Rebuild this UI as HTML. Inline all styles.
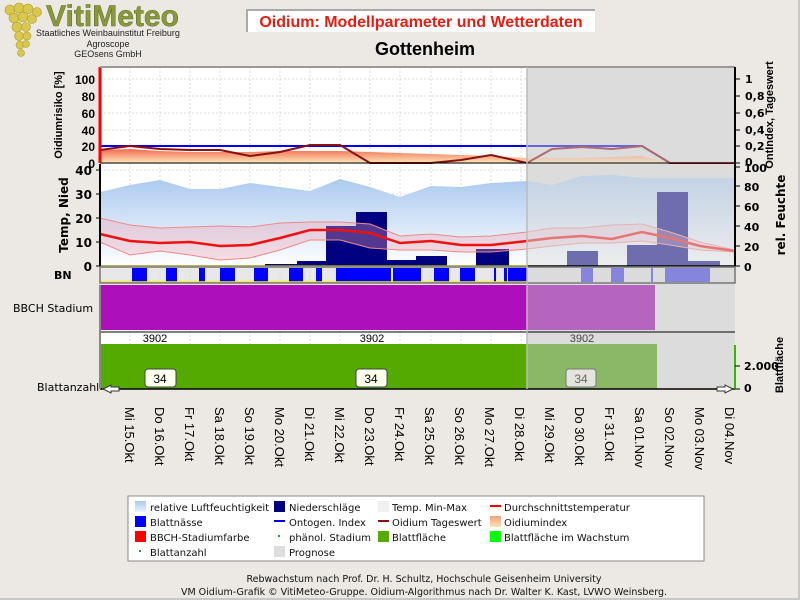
<!DOCTYPE html>
<html><head><meta charset="utf-8"><style>
html,body{margin:0;padding:0;background:#ece9e4;}
svg{display:block;font-family:"Liberation Sans",sans-serif;}
.dv{font-family:"DejaVu Sans",sans-serif;}
</style></head><body>
<svg width="800" height="600" viewBox="0 0 800 600" xmlns="http://www.w3.org/2000/svg">
<defs>
<linearGradient id="hum" x1="0" y1="0" x2="0" y2="1"><stop offset="0" stop-color="#a8c8ee"/><stop offset="1" stop-color="#ffffff"/></linearGradient>
<linearGradient id="oid" x1="0" y1="0" x2="0" y2="1"><stop offset="0" stop-color="#f46a50"/><stop offset="1" stop-color="#fbe6b8"/></linearGradient>
<linearGradient id="leg1" x1="0" y1="0" x2="0" y2="1"><stop offset="0" stop-color="#a8c8ee"/><stop offset="1" stop-color="#eef4fc"/></linearGradient>
<linearGradient id="leg2" x1="0" y1="0" x2="0" y2="1"><stop offset="0" stop-color="#f4a080"/><stop offset="1" stop-color="#fbe0b8"/></linearGradient>
</defs>
<rect x="0" y="0" width="800" height="600" fill="#ece9e4"/>
<rect x="798" y="0" width="2" height="600" fill="#c8c8c8"/>
<rect x="0" y="598" width="800" height="2" fill="#c8c8c8"/>

<!-- logo -->
<g fill="#d8c850" stroke="#b09a20" stroke-width="0.6">
<circle cx="10" cy="10" r="5"/><circle cx="19" cy="8" r="5"/><circle cx="28" cy="9" r="5"/><circle cx="37" cy="12" r="4.5"/>
<circle cx="14" cy="18" r="5"/><circle cx="23" cy="17" r="5"/><circle cx="32" cy="19" r="4.5"/>
<circle cx="17" cy="27" r="5"/><circle cx="26" cy="27" r="4.5"/><circle cx="19" cy="36" r="4.5"/><circle cx="27" cy="36" r="4"/>
<circle cx="20" cy="45" r="4"/><circle cx="26" cy="44" r="3.5"/><circle cx="21" cy="53" r="3.5"/>
</g>
<text x="46" y="26" font-size="30" font-weight="bold" fill="#8a9a3a" stroke="#5a6a20" stroke-width="0.5" textLength="133" lengthAdjust="spacingAndGlyphs">VitiMeteo</text>
<text x="108" y="36" font-size="9" text-anchor="middle" fill="#222">Staatliches Weinbauinstitut Freiburg</text>
<text x="108" y="47" font-size="9" text-anchor="middle" fill="#222">Agroscope</text>
<text x="108" y="57" font-size="9" text-anchor="middle" fill="#222">GEOsens GmbH</text>

<!-- title -->
<rect x="247" y="10" width="348" height="22" fill="#fff"/>
<path d="M247 32 V10 H595" fill="none" stroke="#aaa" stroke-width="2"/>
<text x="421" y="27" font-size="16" font-weight="bold" fill="#ee1a10" text-anchor="middle">Oidium: Modellparameter und Wetterdaten</text>
<text x="425" y="55" font-size="18" font-weight="bold" fill="#000" text-anchor="middle">Gottenheim</text>

<!-- plot backgrounds -->
<rect x="100" y="67" width="635" height="96" fill="#fff"/>
<rect x="100" y="164" width="635" height="102" fill="#fff"/>
<rect x="100" y="268" width="635" height="15" fill="#e8e8e8"/>
<rect x="100" y="285" width="635" height="104" fill="#fff"/>
<rect x="527" y="67" width="208" height="322" fill="#dcdcdc"/>

<!-- grid -->
<g stroke="#ddd" stroke-dasharray="2,2" stroke-width="1">
<path d="M130 67V389M160 67V389M190 67V389M220 67V389M250 67V389M280 67V389M310 67V389M340 67V389M370 67V389M400 67V389M431 67V389M461 67V389M491 67V389M521 67V389M551 67V389M581 67V389M611 67V389M641 67V389M671 67V389M701 67V389M731 67V389"/>
<path d="M100 79H735M100 96H735M100 113H735M100 130H735M100 146H735M100 242H735M100 218H735M100 194H735M100 170H735M100 366H735"/>
</g>

<!-- top panel -->
<path d="M100 150 L130 149 L160 151 L190 152 L220 152 L250 152 L280 151 L310 151 L340 151 L370 152 L400 153 L431 154 L461 155 L491 156 L527 158 L551 158 L581 158 L611 157 L641 156 L671 163 L735 163 L735 163 L100 163Z" fill="url(#oid)"/>
<polyline points="100,146 642,146 670,163 735,163" fill="none" stroke="#0000ee" stroke-width="2"/>
<polyline points="100,150 130,146 160,149 190,150 220,150 250,156 280,152 310,145 340,145 370,163 400,163 431,163 461,160 491,155 527,163 552,149 582,147 612,149 642,146 670,163 735,163" fill="none" stroke="#8b1010" stroke-width="2"/>
<rect x="527" y="67" width="208" height="96" fill="#dcdcdc" fill-opacity="0.45"/>
<path d="M100 163H735" stroke="#000" stroke-width="1"/>
<path d="M100 67V163" stroke="#ff0000" stroke-width="3"/>
<path d="M100 67H735" stroke="#999" stroke-width="2"/>

<!-- temp panel -->
<path d="M100 192 L130 185 L160 180 L190 189 L220 189 L250 183 L280 187 L310 191 L340 179 L370 187 L400 197 L431 186 L461 187 L491 183 L527 181 L552 185 L582 176 L612 175 L642 178 L670 178 L700 178 L735 178 L735 266 L100 266Z" fill="url(#hum)"/>
<g fill="#000080">
<rect x="265" y="264" width="32" height="2"/><rect x="297" y="261" width="29" height="5"/>
<rect x="326" y="226" width="30" height="40"/><rect x="356" y="212" width="31" height="54"/>
<rect x="387" y="260" width="29" height="6"/><rect x="416" y="256" width="31" height="10"/>
<rect x="476" y="249" width="33" height="17"/>
<rect x="567" y="251" width="31" height="15"/><rect x="627" y="245" width="30" height="21"/>
<rect x="657" y="192" width="31" height="74"/><rect x="688" y="261" width="32" height="5"/>
</g>
<path d="M100 218 L130 225 L160 228 L190 227 L220 226 L250 227 L280 223 L310 222 L340 222 L370 224 L400 236 L431 234 L461 237 L491 236 L527 232 L552 228 L582 228 L612 225 L642 224 L670 232 L700 242 L735 250 L735 252 L700 250 L670 245 L642 241 L612 243 L582 243 L552 246 L527 249 L491 252 L461 252 L431 250 L400 250 L370 248 L340 240 L310 240 L280 250 L250 258 L220 260 L190 255 L160 251 L130 255 L100 242Z" fill="#f0a0b0" fill-opacity="0.35" stroke="#f08888" stroke-width="1"/>
<polyline points="100,234 130,241 160,243 190,242 220,246 250,245 280,238 310,230 340,230 370,233 400,243 431,241 461,245 491,245 527,241 552,238 582,236 612,239 642,232 670,238 700,246 735,251" fill="none" stroke="#ee1111" stroke-width="2.5"/>
<rect x="527" y="164" width="208" height="102" fill="#dcdcdc" fill-opacity="0.5"/>
<path d="M100 266H735" stroke="#000" stroke-width="1.5"/>
<path d="M100 266H527" stroke="#e8e040" stroke-width="1"/>
<path d="M100 164V266" stroke="#000" stroke-width="2"/>

<!-- BN strip -->
<g fill="#0000ff">
<rect x="132" y="268" width="15" height="14"/><rect x="166" y="268" width="11" height="14"/><rect x="199" y="268" width="6" height="14"/><rect x="220" y="268" width="15" height="14"/><rect x="254" y="268" width="14" height="14"/><rect x="289" y="268" width="14" height="14"/><rect x="316" y="268" width="6" height="14"/><rect x="336" y="268" width="55" height="14"/><rect x="393" y="268" width="14" height="14"/><rect x="407" y="268" width="14" height="14"/><rect x="434" y="268" width="15" height="14"/><rect x="460" y="268" width="15" height="14"/><rect x="494" y="268" width="2" height="14"/><rect x="504" y="268" width="3" height="14"/><rect x="508" y="268" width="19" height="14"/>
</g>
<g fill="#6060e0">
<rect x="581" y="268" width="12" height="14"/><rect x="611" y="268" width="13" height="14"/><rect x="651" y="268" width="2" height="14"/><rect x="665" y="268" width="45" height="14"/>
</g>
<rect x="527" y="268" width="208" height="14" fill="#dcdcdc" fill-opacity="0.3"/>
<path d="M100 282H527" stroke="#f0f000" stroke-width="1.5"/>
<rect x="100" y="267" width="635" height="16" fill="none" stroke="#777" stroke-width="1.5"/>

<!-- BBCH -->
<rect x="100" y="285" width="427" height="45" fill="#ad10b8"/>
<rect x="527" y="285" width="128" height="45" fill="#b565bd"/>
<path d="M100 332H735" stroke="#000" stroke-width="1"/>
<text x="155" y="342" font-size="11" text-anchor="middle" fill="#000">3902</text>
<text x="372" y="342" font-size="11" text-anchor="middle" fill="#000">3902</text>
<text x="582" y="342" font-size="11" text-anchor="middle" fill="#444">3902</text>

<!-- Blatt -->
<rect x="100" y="344" width="427" height="45" fill="#55aa00"/>
<rect x="527" y="344" width="130" height="45" fill="#8ab866"/>
<g font-size="12" text-anchor="middle">
<rect x="145" y="369" width="31" height="18" rx="3" fill="#fffff0" stroke="#444"/><text x="160" y="383">34</text>
<rect x="356" y="369" width="31" height="18" rx="3" fill="#fffff0" stroke="#444"/><text x="371" y="383">34</text>
<rect x="566" y="369" width="30" height="18" rx="3" fill="#e4e4dc" stroke="#777"/><text x="581" y="383" fill="#666">34</text>
</g>
<path d="M100 389H735" stroke="#000" stroke-width="1.5"/>
<path d="M735 345V389" stroke="#33bb00" stroke-width="2"/>
<path d="M103 389 l8 -4 v2 h8 v4 h-8 v2z" fill="#fff" stroke="#333"/>
<path d="M733 389 l-8 -4 v2 h-8 v4 h8 v2z" fill="#fff" stroke="#333"/>
<path d="M100 285V389" stroke="#888" stroke-width="2"/>
<path d="M527 67V389" stroke="#bbb" stroke-width="1.5"/>

<!-- right axis -->
<path d="M735 67V266" stroke="#000" stroke-width="2"/>
<g stroke="#000" stroke-width="1">
<path d="M735 79h5M735 96h5M735 113h5M735 130h5M735 146h5M735 163h5M735 167h5M735 186h5M735 206h5M735 226h5M735 246h5M735 266h5M735 366h5M735 389h5"/>
</g>

<!-- left labels -->
<g font-size="12" font-weight="bold" text-anchor="end" fill="#000">
<text x="95" y="84">100</text><text x="95" y="101">80</text><text x="95" y="118">60</text><text x="95" y="135">40</text><text x="95" y="151">20</text><text x="95" y="168">0</text>
</g>
<text transform="translate(62,115) rotate(-90)" font-size="11" font-weight="bold" text-anchor="middle">Oidiumrisiko [%]</text>
<g class="dv" font-size="12" font-weight="bold" text-anchor="end" fill="#000">
<text x="92" y="175">40</text><text x="92" y="199">30</text><text x="92" y="223">20</text><text x="92" y="247">10</text><text x="92" y="271">0</text>
</g>
<text class="dv" transform="translate(68,215) rotate(-90)" font-size="12" font-weight="bold" text-anchor="middle">Temp, Nied</text>
<g stroke="#000"><path d="M96 170h4M96 194h4M96 218h4M96 242h4M96 266h4"/></g>
<text class="dv" x="54" y="279" font-size="11" font-weight="bold">BN</text>
<text class="dv" x="13" y="312" font-size="11">BBCH Stadium</text>
<text class="dv" x="37" y="391" font-size="11">Blattanzahl</text>

<!-- right labels -->
<g class="dv" font-size="11" font-weight="bold" fill="#000">
<text x="745" y="83">1</text><text x="745" y="100">0,8</text><text x="745" y="117">0,6</text><text x="745" y="134">0,4</text><text x="745" y="150">0,2</text><text x="745" y="166">0</text>
<text x="744" y="172">100</text><text x="744" y="191">80</text><text x="744" y="211">60</text><text x="744" y="231">40</text><text x="744" y="251">20</text><text x="744" y="271">0</text>
<text x="744" y="370">2.000</text><text x="744" y="392">0</text>
</g>
<text transform="translate(773,115) rotate(-90)" font-size="11" font-weight="bold" text-anchor="middle">OntIndex, Tageswert</text>
<text class="dv" transform="translate(785,215) rotate(-90)" font-size="12" font-weight="bold" text-anchor="middle">rel. Feuchte</text>
<text transform="translate(783,365) rotate(-90)" font-size="11" font-weight="bold" text-anchor="middle">Blattfläche</text>

<!-- x labels -->
<g font-size="13" fill="#000">
<text transform="translate(125,407) rotate(90)">Mi 15.Okt</text>
<text transform="translate(155,407) rotate(90)">Do 16.Okt</text>
<text transform="translate(185,407) rotate(90)">Fr 17.Okt</text>
<text transform="translate(215,407) rotate(90)">Sa 18.Okt</text>
<text transform="translate(245,407) rotate(90)">So 19.Okt</text>
<text transform="translate(275,407) rotate(90)">Mo 20.Okt</text>
<text transform="translate(305,407) rotate(90)">Di 21.Okt</text>
<text transform="translate(335,407) rotate(90)">Mi 22.Okt</text>
<text transform="translate(365,407) rotate(90)">Do 23.Okt</text>
<text transform="translate(395,407) rotate(90)">Fr 24.Okt</text>
<text transform="translate(425,407) rotate(90)">Sa 25.Okt</text>
<text transform="translate(455,407) rotate(90)">So 26.Okt</text>
<text transform="translate(485,407) rotate(90)">Mo 27.Okt</text>
<text transform="translate(515,407) rotate(90)">Di 28.Okt</text>
<text transform="translate(545,407) rotate(90)">Mi 29.Okt</text>
<text transform="translate(575,407) rotate(90)">Do 30.Okt</text>
<text transform="translate(605,407) rotate(90)">Fr 31.Okt</text>
<text transform="translate(635,407) rotate(90)">Sa 01.Nov</text>
<text transform="translate(665,407) rotate(90)">So 02.Nov</text>
<text transform="translate(695,407) rotate(90)">Mo 03.Nov</text>
<text transform="translate(725,407) rotate(90)">Di 04.Nov</text>
</g>

<!-- legend -->
<rect x="128" y="496" width="576" height="65" fill="#fff" stroke="#888"/>
<g class="dv" font-size="10" fill="#111">
<rect x="135" y="501" width="11" height="11" fill="url(#leg1)"/><text x="150" y="511">relative Luftfeuchtigkeit</text>
<rect x="135" y="516" width="11" height="11" fill="#0000ff"/><text x="150" y="526">Blattnässe</text>
<rect x="135" y="531" width="11" height="11" fill="#ff0000"/><text x="150" y="541">BBCH-Stadiumfarbe</text>
<rect x="139" y="550" width="2" height="2" fill="#393"/><text x="150" y="556">Blattanzahl</text>
<rect x="274" y="501" width="11" height="11" fill="#000080"/><text x="289" y="511">Niederschläge</text>
<rect x="274" y="520" width="11" height="2" fill="#0000ee"/><text x="289" y="526">Ontogen. Index</text>
<rect x="278" y="535" width="2" height="2" fill="#393"/><text x="289" y="541">phänol. Stadium</text>
<rect x="274" y="546" width="11" height="11" fill="#ddd"/><text x="289" y="556">Prognose</text>
<rect x="378" y="501" width="11" height="11" fill="#f0f0f0"/><text x="392" y="511">Temp. Min-Max</text>
<rect x="378" y="520" width="11" height="2" fill="#8b1010"/><text x="392" y="526">Oidium Tageswert</text>
<rect x="378" y="531" width="11" height="11" fill="#55aa00"/><text x="392" y="541">Blattfläche</text>
<rect x="490" y="505" width="11" height="2" fill="#ff0000"/><text x="504" y="511">Durchschnittstemperatur</text>
<rect x="490" y="516" width="11" height="11" fill="url(#leg2)"/><text x="504" y="526">Oidiumindex</text>
<rect x="490" y="531" width="11" height="11" fill="#00ff00"/><text x="504" y="541">Blattfläche im Wachstum</text>
</g>

<!-- footer -->
<g class="dv" font-size="9.5" fill="#111" text-anchor="middle">
<text x="424" y="582">Rebwachstum nach Prof. Dr. H. Schultz, Hochschule Geisenheim University</text>
<text x="424" y="595">VM Oidium-Grafik © VitiMeteo-Gruppe. Oidium-Algorithmus nach Dr. Walter K. Kast, LVWO Weinsberg.</text>
</g>
</svg>
</body></html>
